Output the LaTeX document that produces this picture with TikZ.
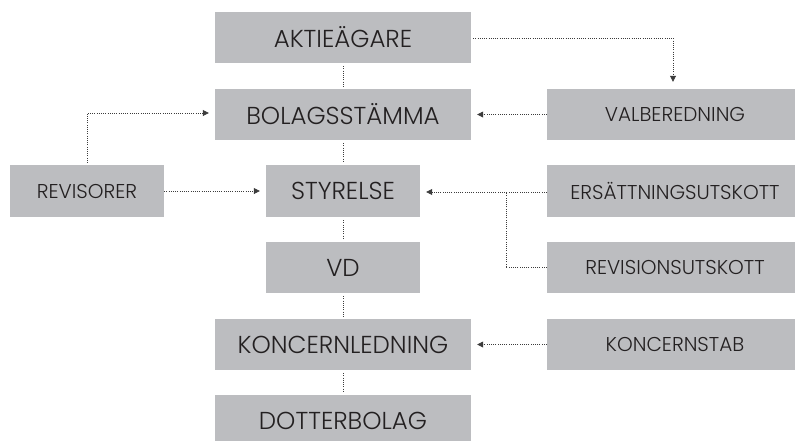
\documentclass[tikz,border=0pt]{standalone}
\usepackage{fontspec}
\setmainfont{Poppins}[UprightFont={* Light}]
\usetikzlibrary{arrows.meta}
\definecolor{boxgray}{RGB}{188,189,192}
\definecolor{txt}{RGB}{35,32,33}
\definecolor{ln}{RGB}{60,60,60}
\tikzset{
  bigbox/.style={fill=boxgray, draw=none, inner sep=0pt, anchor=center, text=txt, font=\fontsize{24.5}{28}\selectfont},
  smallbox/.style={fill=boxgray, draw=none, inner sep=0pt, anchor=center, text=txt, font=\fontsize{20}{24}\selectfont},
  dotline/.style={draw=ln, line width=0.8pt, dash pattern=on 0.8pt off 1.4pt},
  arr/.style={dotline, -{Triangle[length=6pt,width=6pt]}, shorten >=6pt}
}
\begin{document}
\begin{tikzpicture}[x=1pt,y=-1pt]
\useasboundingbox (0,0) rectangle (795,440);
\begin{scope}
\clip (0,0) rectangle (795,440);
\node[bigbox, minimum width=256pt, minimum height=51pt] (akt) at (343,37.5) {AKTIEÄGARE};
\node[bigbox, minimum width=256pt, minimum height=51pt] (bol) at (343,114.5) {BOLAGSSTÄMMA};
\node[bigbox, minimum width=154pt, minimum height=52pt] (sty) at (343,191) {STYRELSE};
\node[bigbox, minimum width=154pt, minimum height=51pt] (vd) at (343,267.5) {VD};
\node[bigbox, minimum width=256pt, minimum height=51pt] (kon) at (343,344.5) {KONCERNLEDNING};
\node[bigbox, minimum width=256pt, minimum height=51pt] (dot) at (343,420.5) {DOTTERBOLAG};
\node[smallbox, minimum width=154pt, minimum height=52pt] (rev) at (87,191) {REVISORER};
\node[smallbox, minimum width=256pt, minimum height=51pt] (val) at (675,114.5) {VALBEREDNING};
\node[smallbox, minimum width=256pt, minimum height=52pt] (ers) at (675,191) {ERSÄTTNINGSUTSKOTT};
\node[smallbox, minimum width=256pt, minimum height=51pt] (rvu) at (675,267.5) {REVISIONSUTSKOTT};
\node[smallbox, minimum width=256pt, minimum height=51pt] (ks) at (675,344.5) {KONCERNSTAB};
\end{scope}
\coordinate (c1) at (673,38);
\coordinate (c2) at (87,113);
\coordinate (c3) at (506,192);
% vertical spine
\draw[dotline, shorten <=3pt, shorten >=2pt] (akt.south) -- (bol.north);
\draw[dotline, shorten <=3pt, shorten >=2pt] (bol.south) -- (sty.north);
\draw[dotline, shorten <=3pt, shorten >=2pt] (sty.south) -- (vd.north);
\draw[dotline, shorten <=3pt, shorten >=2pt] (vd.south) -- (kon.north);
\draw[dotline, shorten <=3pt, shorten >=2pt] (kon.south) -- (dot.north);
% arrows
\draw[arr, shorten <=2pt, shorten >=7pt] (akt.east |- c1) -- (c1) -- (c1 |- val.north);
\draw[arr] (val.west) -- (val.west -| bol.east);
\draw[arr, shorten <=2pt] (rev.north -| c2) -- (c2) -- (c2 -| bol.west);
\draw[arr] (rev.east) -- (sty.west);
\draw[arr] (ers.west |- c3) -- (c3 -| sty.east);
\draw[dotline] (rvu.west) -- (rvu.west -| c3) -- (c3);
\draw[arr] (ks.west) -- (ks.west -| kon.east);
\end{tikzpicture}
\end{document}
